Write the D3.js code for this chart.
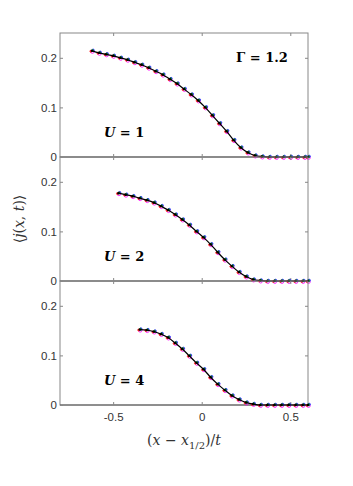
<!DOCTYPE html>
<html><head><meta charset="utf-8">
<script src="https://cdn.jsdelivr.net/npm/d3@7"></script>
<style>body{margin:0;background:#fff}svg{display:block}</style>
</head><body>
<script>
const xTicks = [-0.5, 0, 0.5];
const xTickLabels = ["-0.5", "0", "0.5"];
const yTicks = [0, 0.1, 0.2];
const yTickLabels = ["0", "0.1", "0.2"];
const panelLabels = ["U = 1", "U = 2", "U = 4"];

const x1 = [-0.62,-0.58,-0.54,-0.50,-0.46,-0.42,-0.38,-0.34,-0.30,-0.26,-0.22,-0.18,-0.14,-0.10,-0.06,-0.02,0.02,0.06,0.10,0.14,0.18,0.22,0.26,0.30,0.34,0.38,0.42,0.46,0.50,0.54,0.58,0.60];
const y1 = [0.214,0.210,0.207,0.204,0.200,0.196,0.191,0.186,0.180,0.173,0.166,0.157,0.148,0.137,0.126,0.114,0.100,0.084,0.068,0.052,0.034,0.019,0.009,0.003,0.001,0,0,0,0,0,0,0];

const x2 = [-0.47,-0.43,-0.39,-0.35,-0.31,-0.27,-0.23,-0.19,-0.15,-0.11,-0.07,-0.03,0.01,0.05,0.09,0.13,0.17,0.21,0.25,0.29,0.33,0.37,0.41,0.45,0.49,0.53,0.57,0.60];
const y2 = [0.177,0.174,0.171,0.167,0.163,0.158,0.151,0.143,0.134,0.124,0.113,0.100,0.088,0.074,0.058,0.043,0.030,0.018,0.009,0.003,0.001,0,0,0,0,0,0,0];

const x3 = [-0.35,-0.31,-0.27,-0.23,-0.19,-0.15,-0.11,-0.07,-0.03,0.01,0.05,0.09,0.13,0.17,0.21,0.25,0.29,0.33,0.37,0.41,0.45,0.49,0.53,0.57,0.60];
const y3 = [0.152,0.151,0.148,0.143,0.136,0.125,0.113,0.099,0.085,0.072,0.056,0.042,0.030,0.019,0.011,0.005,0.002,0,0,0,0,0,0,0,0];

const seriesX = [x1, x2, x3];
const seriesY = [y1, y2, y3];

const W = 353, H = 486;
const left = 60, right = 308;
const panelTops = [33, 157, 281];
const panelH = 124;

const svg = d3.select("body").append("svg").attr("width", W).attr("height", H);
const x = d3.scaleLinear().domain([-0.8, 0.6]).range([left, right]);
const axisColor = "#5a5a5a";

panelTops.forEach((top, i) => {
  const y = d3.scaleLinear().domain([0, 0.25]).range([top + panelH, top]);
  const g = svg.append("g");
  g.append("rect").attr("x", left).attr("y", top).attr("width", right - left).attr("height", panelH)
    .attr("fill", "none").attr("stroke", "#888").attr("stroke-width", 1);
  g.append("line").attr("x1", left).attr("x2", right).attr("y1", y(0)).attr("y2", y(0))
    .attr("stroke", axisColor).attr("stroke-width", 1);
  const la = d3.axisLeft(y).tickValues(yTicks).tickSize(-3).tickPadding(6).tickFormat((d, k) => yTickLabels[k]);
  const gl = g.append("g").attr("transform", `translate(${left},0)`).call(la);
  gl.select(".domain").remove();
  gl.selectAll("line").attr("stroke", "#888");
  gl.selectAll("text").attr("font-family", "Liberation Sans, Arial, sans-serif").attr("font-size", 11.5).attr("fill", "#333").attr("dx", 3);
  const ra = d3.axisRight(y).tickValues(yTicks).tickSize(-3).tickFormat("");
  const gr = g.append("g").attr("transform", `translate(${right},0)`).call(ra);
  gr.select(".domain").remove(); gr.selectAll("line").attr("stroke", "#888");
  const ta = d3.axisTop(x).tickValues(xTicks).tickSize(-3).tickFormat("");
  const gt = g.append("g").attr("transform", `translate(0,${top})`).call(ta);
  gt.select(".domain").remove(); gt.selectAll("line").attr("stroke", "#888");
  const ba = d3.axisBottom(x).tickValues(xTicks).tickSize(-3).tickPadding(8).tickFormat((d, k) => i === 2 ? xTickLabels[k] : "");
  const gb = g.append("g").attr("transform", `translate(0,${top + panelH})`).call(ba);
  gb.select(".domain").remove(); gb.selectAll("line").attr("stroke", "#888");
  gb.selectAll("text").attr("font-family", "Liberation Sans, Arial, sans-serif").attr("font-size", 11.5).attr("fill", "#333");

  const pts = seriesX[i].map((v, k) => [v, seriesY[i][k]]);
  const markers = [
    {c: "#ff00ff", r: 1.7, fill: "none", dx: 0.5, dy: 0.8},
    {c: "#3030ff", r: 1.2, fill: "#3030ff", dx: 1.2, dy: -0.6},
    {c: "#ff2020", r: 1.0, fill: "#ff2020", dx: -1.0, dy: 0.4},
    {c: "#10a010", r: 1.0, fill: "#10a010", dx: 0.6, dy: -0.3}
  ];
  markers.forEach(m => {
    g.append("g").selectAll("circle").data(pts).join("circle")
      .attr("cx", d => x(d[0]) + m.dx).attr("cy", d => y(d[1]) + m.dy).attr("r", m.r)
      .attr("fill", m.fill).attr("stroke", m.c).attr("stroke-width", 0.8);
  });
  g.append("path").datum(pts).attr("fill", "none").attr("stroke", "#000").attr("stroke-width", 1.2)
    .attr("d", d3.line().x(d => x(d[0])).y(d => y(d[1])).curve(d3.curveMonotoneX));
  g.append("g").selectAll("circle").data(pts).join("circle")
    .attr("cx", d => x(d[0])).attr("cy", d => y(d[1])).attr("r", 1.2).attr("fill", "#000");

  const t = g.append("text").attr("x", 104).attr("y", top + 104)
    .attr("font-family", "DejaVu Serif, serif").attr("font-size", 13).attr("font-weight", "bold");
  t.append("tspan").attr("font-style", "italic").text("U");
  t.append("tspan").text(" = " + panelLabels[i].split("= ")[1]);
});

svg.append("text").attr("x", 236).attr("y", 62)
  .attr("font-family", "DejaVu Serif, serif").attr("font-size", 13).attr("font-weight", "bold").text("Γ = 1.2");

const xl = svg.append("text").attr("x", 184).attr("y", 445).attr("text-anchor", "middle")
  .attr("font-family", "DejaVu Serif, serif").attr("font-size", 14).attr("fill", "#333");
xl.append("tspan").text("(");
xl.append("tspan").attr("font-style", "italic").text("x");
xl.append("tspan").text(" − ");
xl.append("tspan").attr("font-style", "italic").text("x");
xl.append("tspan").attr("font-size", 10).attr("dy", 4).text("1/2");
xl.append("tspan").attr("dy", -4).text(")/");
xl.append("tspan").attr("font-style", "italic").text("t");

const yl = svg.append("text").attr("transform", "translate(24,219) rotate(-90)").attr("text-anchor", "middle")
  .attr("font-family", "DejaVu Serif, serif").attr("font-size", 14).attr("fill", "#333");
yl.append("tspan").text("⟨");
yl.append("tspan").attr("font-style", "italic").text("j");
yl.append("tspan").text("(");
yl.append("tspan").attr("font-style", "italic").text("x");
yl.append("tspan").text(", ");
yl.append("tspan").attr("font-style", "italic").text("t");
yl.append("tspan").text(")⟩");
</script>
</body></html>
